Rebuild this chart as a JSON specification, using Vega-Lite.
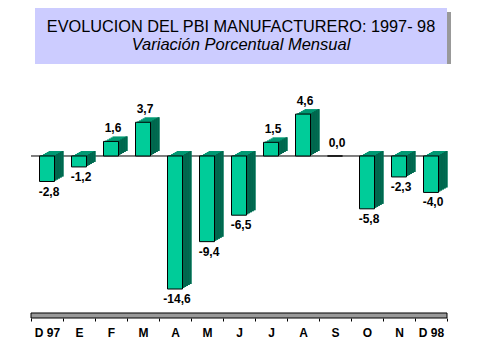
{
  "$schema": "https://vega.github.io/schema/vega-lite/v6.json",
  "padding": {"left": 30, "top": 8, "right": 0, "bottom": 0},
  "config": {
    "font": "Liberation Sans",
    "view": {"stroke": null},
    "axisX": {"title": null, "labelExpr": "trim(datum.label)", "labelAngle": 0, "labelFontSize": 12, "labelFontWeight": "bold", "labelColor": "black", "domain": false, "ticks": true, "tickColor": "black", "tickSize": 3, "tickBand": "extent", "labelPadding": 6, "grid": false},
    "axisY": {"grid": false, "domain": false, "ticks": false, "labels": false, "title": null},
    "locale": {"number": {"decimal": ",", "thousands": ".", "grouping": [3], "currency": ["", ""], "minus": "-"}}
  },
  "datasets": {
    "d": [
      {"m": "D 97", "v": -2.8},
      {"m": "E", "v": -1.2},
      {"m": "F", "v": 1.6},
      {"m": "M", "v": 3.7},
      {"m": "A", "v": -14.6},
      {"m": "M ", "v": -9.4},
      {"m": "J", "v": -6.5},
      {"m": "J ", "v": 1.5},
      {"m": "A ", "v": 4.6},
      {"m": "S", "v": 0.0},
      {"m": "O", "v": -5.8},
      {"m": "N", "v": -2.3},
      {"m": "D 98", "v": -4.0}
    ]
  },
  "spacing": 19,
  "vconcat": [
    {
      "spacing": 0,
      "hconcat": [
        {"data": {"values": []}, "mark": "point", "width": 4, "height": 56},
        {
          "width": 412, "height": 56,
          "data": {"values": [{}]},
          "layer": [
            {"mark": {"type": "rect", "fill": "#999999", "xOffset": 4, "x2Offset": 4, "yOffset": 4, "y2Offset": 4}, "encoding": {}},
            {"mark": {"type": "rect", "fill": "#CCCCFF"}, "encoding": {}},
            {"mark": {"type": "text", "text": "EVOLUCION DEL PBI MANUFACTURERO: 1997- 98", "fontSize": 16.3, "dy": -9, "color": "black"}, "encoding": {}},
            {"mark": {"type": "text", "text": "Variación Porcentual Mensual", "fontSize": 16.5, "fontStyle": "italic", "dy": 8.5, "color": "black"}, "encoding": {}}
          ]
        }
      ]
    },
    {
      "width": 416, "height": 235,
      "layer": [
        {"data": {"values": [{}]}, "mark": {"type": "rect", "fill": "#999999", "stroke": "black", "strokeWidth": 1},
         "encoding": {"y": {"datum": -17.78, "type": "quantitative", "scale": {"domain": [-17.78, 8.01], "nice": false, "zero": false}}, "y2": {"datum": -17.23}}},
        {"data": {"values": [{}]}, "mark": {"type": "rule", "color": "black", "strokeWidth": 1},
         "encoding": {"y": {"datum": 0, "type": "quantitative"}}},
        {"data": {"name": "d"}, "mark": {"type": "bar", "width": 15, "fill": "#009973", "xOffset": 9, "x2Offset": 9, "yOffset": -5, "y2Offset": -5},
         "encoding": {"x": {"field": "m", "type": "nominal", "sort": null, "scale": {"paddingInner": 0, "paddingOuter": 0}}, "y": {"field": "v", "type": "quantitative"}, "y2": {"datum": 0}}},
        {"data": {"name": "d"}, "mark": {"type": "bar", "width": 15, "fill": "#009973", "xOffset": 7.2, "x2Offset": 7.2, "yOffset": -4, "y2Offset": -4},
         "encoding": {"x": {"field": "m", "type": "nominal", "sort": null}, "y": {"field": "v", "type": "quantitative"}, "y2": {"datum": 0}}},
        {"data": {"name": "d"}, "mark": {"type": "bar", "width": 15, "fill": "#009973", "xOffset": 5.4, "x2Offset": 5.4, "yOffset": -3, "y2Offset": -3},
         "encoding": {"x": {"field": "m", "type": "nominal", "sort": null}, "y": {"field": "v", "type": "quantitative"}, "y2": {"datum": 0}}},
        {"data": {"name": "d"}, "mark": {"type": "bar", "width": 15, "fill": "#009973", "xOffset": 3.6, "x2Offset": 3.6, "yOffset": -2, "y2Offset": -2},
         "encoding": {"x": {"field": "m", "type": "nominal", "sort": null}, "y": {"field": "v", "type": "quantitative"}, "y2": {"datum": 0}}},
        {"data": {"name": "d"}, "mark": {"type": "bar", "width": 15, "fill": "#009973", "xOffset": 1.8, "x2Offset": 1.8, "yOffset": -1, "y2Offset": -1},
         "encoding": {"x": {"field": "m", "type": "nominal", "sort": null}, "y": {"field": "v", "type": "quantitative"}, "y2": {"datum": 0}}},
        {"data": {"name": "d"}, "mark": {"type": "bar", "width": 2, "fill": "#00664D", "xOffset": 8.3, "x2Offset": 8.3, "yOffset": -1, "y2Offset": -1},
         "encoding": {"x": {"field": "m", "type": "nominal", "sort": null}, "y": {"field": "v", "type": "quantitative"}, "y2": {"datum": 0}}},
        {"data": {"name": "d"}, "mark": {"type": "bar", "width": 2, "fill": "#00664D", "xOffset": 10.1, "x2Offset": 10.1, "yOffset": -2, "y2Offset": -2},
         "encoding": {"x": {"field": "m", "type": "nominal", "sort": null}, "y": {"field": "v", "type": "quantitative"}, "y2": {"datum": 0}}},
        {"data": {"name": "d"}, "mark": {"type": "bar", "width": 2, "fill": "#00664D", "xOffset": 11.9, "x2Offset": 11.9, "yOffset": -3, "y2Offset": -3},
         "encoding": {"x": {"field": "m", "type": "nominal", "sort": null}, "y": {"field": "v", "type": "quantitative"}, "y2": {"datum": 0}}},
        {"data": {"name": "d"}, "mark": {"type": "bar", "width": 2, "fill": "#00664D", "xOffset": 13.7, "x2Offset": 13.7, "yOffset": -4, "y2Offset": -4},
         "encoding": {"x": {"field": "m", "type": "nominal", "sort": null}, "y": {"field": "v", "type": "quantitative"}, "y2": {"datum": 0}}},
        {"data": {"name": "d"}, "mark": {"type": "bar", "width": 2, "fill": "#00664D", "xOffset": 15.5, "x2Offset": 15.5, "yOffset": -5, "y2Offset": -5},
         "encoding": {"x": {"field": "m", "type": "nominal", "sort": null}, "y": {"field": "v", "type": "quantitative"}, "y2": {"datum": 0}}},
        {"data": {"name": "d"}, "mark": {"type": "bar", "width": 15, "fill": "#00CC99", "stroke": "black", "strokeWidth": 1},
         "encoding": {"x": {"field": "m", "type": "nominal", "sort": null}, "y": {"field": "v", "type": "quantitative"}, "y2": {"datum": 0}}},
        {"data": {"name": "d"}, "transform": [{"filter": "datum.v >= 0"}],
         "mark": {"type": "text", "baseline": "bottom", "dy": -6, "dx": 2, "fontSize": 12, "fontWeight": "bold", "color": "black"},
         "encoding": {"x": {"field": "m", "type": "nominal", "sort": null}, "y": {"field": "v", "type": "quantitative"}, "text": {"field": "v", "type": "quantitative", "format": ".1f"}}},
        {"data": {"name": "d"}, "transform": [{"filter": "datum.v < 0"}],
         "mark": {"type": "text", "baseline": "top", "dy": 5, "dx": 2, "fontSize": 12, "fontWeight": "bold", "color": "black"},
         "encoding": {"x": {"field": "m", "type": "nominal", "sort": null}, "y": {"field": "v", "type": "quantitative"}, "text": {"field": "v", "type": "quantitative", "format": ".1f"}}}
      ]
    }
  ]
}
